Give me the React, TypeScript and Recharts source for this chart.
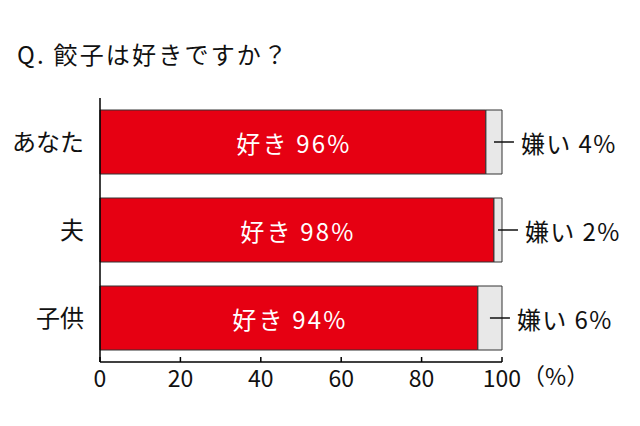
import React from 'react'
import { BarChart, Bar, XAxis, YAxis, LabelList } from 'recharts'

const categories = ['あなた', '夫', '子供']
const likeValues = [96, 98, 94]
const dislikeValues = [4, 2, 6]
const xTicks = [0, 20, 40, 60, 80, 100]

const data = categories.map((name, i) => ({
  name,
  like: likeValues[i],
  dislike: dislikeValues[i],
}))

const FONT = '"Noto Sans CJK JP", "Noto Sans", sans-serif'

const XTick = (props: any) => {
  const { x, y, payload } = props
  return (
    <g>
      <line x1={x} y1={y - 4} x2={x} y2={y - 9} stroke="#000" strokeWidth={1.5} />
      <text x={x} y={y + 11} textAnchor="middle" dominantBaseline="central" fontSize={23} fill="#111" fontFamily={FONT}>
        {payload.value}
      </text>
    </g>
  )
}

const LikeLabel = (props: any) => {
  const { x, y, width, height, value } = props
  return (
    <text
      x={x + width / 2 + 1}
      y={y + height / 2}
      textAnchor="middle"
      dominantBaseline="central"
      fontSize={24}
      letterSpacing={2.2}
      fill="#fff"
      fontFamily={FONT}
    >
      {`好き ${value}%`}
    </text>
  )
}

const DislikeLabel = (props: any) => {
  const { x, y, width, height, value } = props
  const cx = x + width / 2
  const cy = y + height / 2
  return (
    <g>
      <line x1={cx} y1={cy} x2={cx + 20} y2={cy} stroke="#111" strokeWidth={1.5} />
      <text x={cx + 27} y={cy} dominantBaseline="central" fontSize={24} letterSpacing={1.4} fill="#111" fontFamily={FONT}>
        {`嫌い ${value}%`}
      </text>
    </g>
  )
}

export default function App() {
  return (
    <div style={{ position: 'absolute', left: 0, top: 0, width: 640, height: 426, background: '#fff', fontFamily: FONT }}>
      <div style={{ position: 'absolute', left: 17, top: 40, fontSize: 24, lineHeight: '28px', letterSpacing: 2.2, color: '#111' }}>
        Q. 餃子は好きですか？
      </div>
      <BarChart
        width={640}
        height={426}
        data={data}
        layout="vertical"
        margin={{ top: 98, right: 138, bottom: 34, left: 0 }}
        barSize={64}
      >
        <XAxis
          type="number"
          domain={[0, 100]}
          ticks={xTicks}
          axisLine={{ stroke: '#000', strokeWidth: 1.5 }}
          tickLine={false}
          tickSize={0}
          tickMargin={4}
          tick={<XTick />}
          height={30}
          label={{ value: '（%）', position: 'right', offset: 20, fontSize: 23, fill: '#111', fontFamily: FONT }}
        />
        <YAxis
          type="category"
          dataKey="name"
          width={100}
          axisLine={{ stroke: '#000', strokeWidth: 1.5 }}
          tickLine={false}
          tickMargin={10}
          tick={{ fontSize: 24, fill: '#111', fontFamily: FONT }}
        />
        <Bar dataKey="like" stackId="a" fill="#e60012" stroke="#333" strokeWidth={1} isAnimationActive={false}>
          <LabelList dataKey="like" content={<LikeLabel />} />
        </Bar>
        <Bar dataKey="dislike" stackId="a" fill="#e8e8e8" stroke="#333" strokeWidth={1} isAnimationActive={false}>
          <LabelList dataKey="dislike" content={<DislikeLabel />} />
        </Bar>
      </BarChart>
    </div>
  )
}
